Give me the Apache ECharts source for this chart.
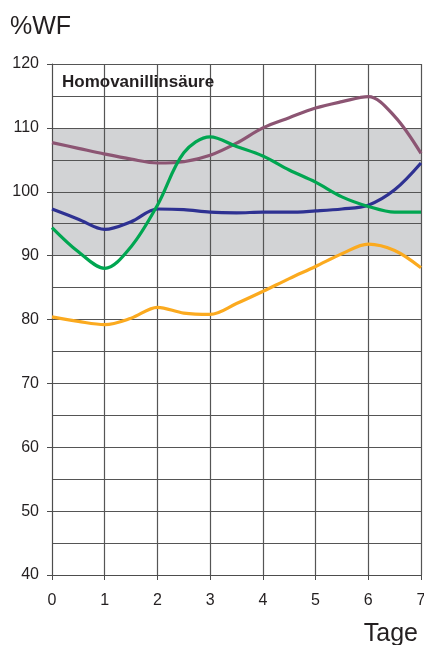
<!DOCTYPE html>
<html><head><meta charset="utf-8">
<script src="https://cdn.jsdelivr.net/npm/echarts@6/dist/echarts.min.js"></script>
<style>html,body{margin:0;padding:0;background:#fff}#c{width:424px;height:645px}</style>
</head><body><div id="c"></div>
<script>
const days = [0, 0.5, 1, 1.5, 2, 2.5, 3, 3.5, 4, 4.5, 5, 5.5, 6, 6.5, 7];
const purpleVals = [107.7, 106.8, 105.9, 105.1, 104.5, 104.7, 105.7, 107.6, 110.0, 111.6, 113.1, 114.1, 114.9, 111.8, 106.0];
const blueVals   = [97.3, 95.7, 94.1, 95.3, 97.3, 97.2, 96.8, 96.7, 96.8, 96.8, 97.0, 97.3, 97.9, 100.3, 104.5];
const greenVals  = [94.4, 90.6, 88.0, 91.4, 97.9, 106.1, 108.6, 107.1, 105.6, 103.4, 101.5, 99.2, 97.7, 96.8, 96.8];
const orangeVals = [80.4, 79.7, 79.2, 80.2, 81.9, 81.0, 80.8, 82.5, 84.4, 86.4, 88.3, 90.3, 91.8, 90.8, 88.1];
const yTicks = [40, 50, 60, 70, 80, 90, 100, 110, 120];
const xTicks = [0, 1, 2, 3, 4, 5, 6, 7];
const bandLow = 90, bandHigh = 110;

const FONT = '"Liberation Sans", Arial, sans-serif';
const pair = v => days.map((d, i) => [d, v[i]]);
const bandColors = yTicks.slice(0, -1).map(t => (t >= bandLow && t < bandHigh) ? '#d2d3d5' : '#ffffff');

const mk = (name, vals, color) => ({
  name, type: 'line', data: pair(vals), smooth: 0.34, symbol: 'none',
  lineStyle: { color, width: 3.2 }, itemStyle: { color }
});

const chart = echarts.init(document.getElementById('c'), null, { renderer: 'canvas' });
chart.setOption({
  animation: false,
  backgroundColor: '#fff',
  title: [
    { text: '%WF', left: 10, top: 15, padding: 0, textStyle: { fontFamily: FONT, fontSize: 25, fontWeight: 'normal', color: '#231f20' } },
    { text: 'Homovanillinsäure', left: 62, top: 74, padding: 0, textStyle: { fontFamily: FONT, fontSize: 17, fontWeight: 'bold', color: '#231f20' } },
    { text: 'Tage', right: 6, top: 622, padding: 0, textStyle: { fontFamily: FONT, fontSize: 25, fontWeight: 'normal', color: '#231f20' } }
  ],
  grid: { left: 52, right: 3, top: 64, bottom: 70, containLabel: false, outerBoundsMode: 'none' },
  xAxis: {
    type: 'value', min: 0, max: 7, interval: 1,
    axisLine: { show: true, lineStyle: { color: '#4d4d4d', width: 1 } },
    axisTick: { show: true, length: 5, lineStyle: { color: '#4d4d4d' } },
    axisLabel: { fontFamily: FONT, fontSize: 16, color: '#231f20', margin: 18 },
    splitLine: { show: true, lineStyle: { color: '#555', width: 1.2 } }
  },
  yAxis: {
    type: 'value', min: 40, max: 120, interval: 10,
    axisLine: { show: true, lineStyle: { color: '#4d4d4d', width: 1 } },
    axisTick: { show: true, length: 5, lineStyle: { color: '#4d4d4d' } },
    axisLabel: { fontFamily: FONT, fontSize: 16, color: '#231f20', margin: 13 },
    splitLine: { show: true, lineStyle: { color: '#555', width: 1.2 } },
    minorTick: { show: false, splitNumber: 2 },
    minorSplitLine: { show: true, lineStyle: { color: '#555', width: 1.2 } },
    splitArea: { show: true, areaStyle: { color: bandColors } }
  },
  series: [
    mk('purple', purpleVals, '#8c5573'),
    mk('blue', blueVals, '#2e3192'),
    mk('green', greenVals, '#00a651'),
    mk('orange', orangeVals, '#fbaa1f')
  ]
});
</script></body></html>
